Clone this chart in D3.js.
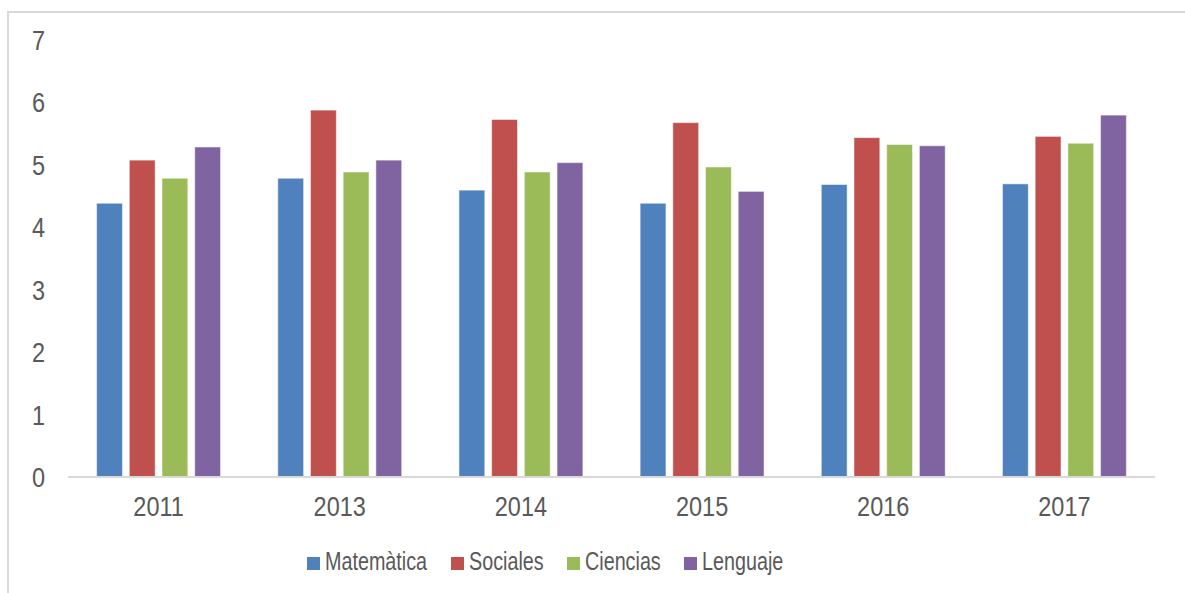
<!DOCTYPE html>
<html>
<head>
<meta charset="utf-8">
<script src="https://cdn.jsdelivr.net/npm/d3@7"></script>
<style>
  body { margin: 0; background: #fff; }
  svg { display: block; font-family: "Liberation Sans", Arial, sans-serif; }
</style>
</head>
<body>
<svg width="1185" height="593"></svg>
<script>
// data
const years = ["2011", "2013", "2014", "2015", "2016", "2017"];
const series = ["Matemàtica", "Sociales", "Ciencias", "Lenguaje"];
const matematica = [4.38, 4.78, 4.59, 4.38, 4.68, 4.69];
const sociales = [5.07, 5.87, 5.72, 5.67, 5.43, 5.45];
const ciencias = [4.78, 4.88, 4.88, 4.96, 5.32, 5.34];
const lenguaje = [5.28, 5.07, 5.03, 4.57, 5.3, 5.79];
const yTicks = [0, 1, 2, 3, 4, 5, 6, 7];

const colors = ["#4f81bd", "#c0504d", "#9bbb59", "#8064a2"];
const values = [matematica, sociales, ciencias, lenguaje];

const svg = d3.select("svg");
const textColor = "#595959";

// chart frame (only top and left edges show in the crop)
svg.append("rect")
  .attr("x", 8).attr("y", 12)
  .attr("width", 1200).attr("height", 600)
  .attr("fill", "none")
  .attr("stroke", "#d9d9d9")
  .attr("stroke-width", 2);

const x = d3.scaleBand()
  .domain(years)
  .range([68, 1155])
  .paddingInner(0.316)
  .paddingOuter(0.158);

const xInner = d3.scaleBand()
  .domain(series)
  .range([0, x.bandwidth()])
  .paddingInner(0.21);

const y = d3.scaleLinear()
  .domain([0, 7])
  .range([477, 39.5]);

const color = d3.scaleOrdinal().domain(series).range(colors);

// rows for bars
const rows = [];
years.forEach((yr, i) => {
  series.forEach((s, j) => rows.push({ year: yr, key: s, value: values[j][i] }));
});

svg.append("g").selectAll("rect")
  .data(rows)
  .join("rect")
  .attr("x", d => x(d.year) + xInner(d.key))
  .attr("y", d => y(d.value))
  .attr("width", xInner.bandwidth())
  .attr("height", d => y(0) - y(d.value))
  .attr("fill", d => color(d.key))
  .attr("stroke", "#ffffff")
  .attr("stroke-opacity", 0.5)
  .attr("stroke-width", 1);

// baseline
svg.append("line")
  .attr("x1", 68).attr("x2", 1155)
  .attr("y1", y(0)).attr("y2", y(0))
  .attr("stroke", "#d9d9d9")
  .attr("stroke-width", 2);

// y tick labels
svg.append("g").selectAll("text")
  .data(yTicks)
  .join("text")
  .attr("transform", d => `translate(45,${y(d) + 10}) scale(0.84,1)`)
  .attr("text-anchor", "end")
  .attr("font-size", 28)
  .attr("fill", textColor)
  .text(d => d);

// x tick labels
svg.append("g").selectAll("text")
  .data(years)
  .join("text")
  .attr("transform", d => `translate(${x(d) + x.bandwidth() / 2},516) scale(0.84,1)`)
  .attr("text-anchor", "middle")
  .attr("font-size", 28)
  .attr("fill", textColor)
  .text(d => d);

// legend
const legendX = [307, 451, 567, 684];
const legend = svg.append("g").selectAll("g")
  .data(series)
  .join("g")
  .attr("transform", (d, i) => `translate(${legendX[i]},557)`);

legend.append("rect")
  .attr("width", 13).attr("height", 13)
  .attr("fill", d => color(d));

legend.append("text")
  .attr("transform", "translate(18,12.5) scale(0.76,1)")
  .attr("font-size", 26)
  .attr("fill", textColor)
  .text(d => d);
</script>
</body>
</html>
